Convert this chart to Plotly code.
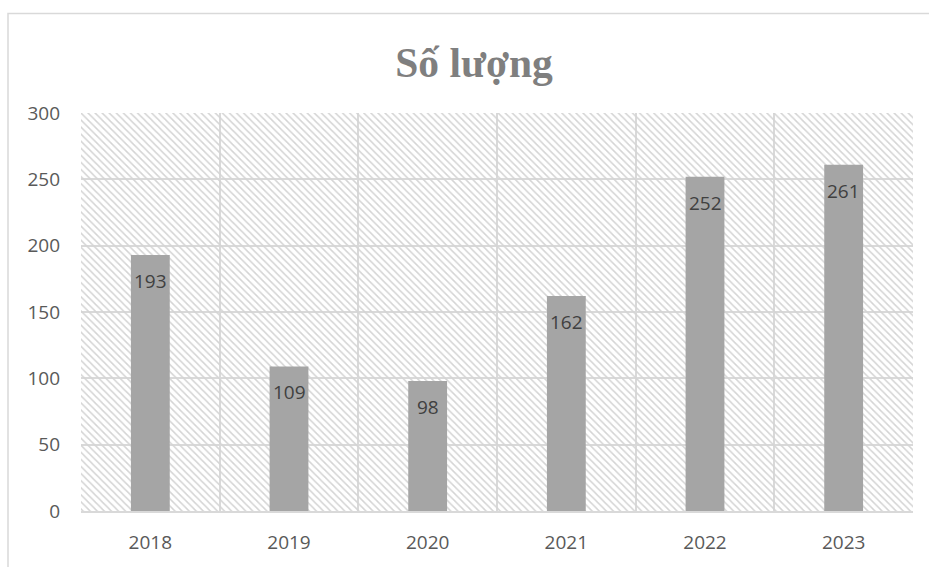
import plotly.graph_objects as go

years = ["2018", "2019", "2020", "2021", "2022", "2023"]
values = [193, 109, 98, 162, 252, 261]
y_max = 300
y_step = 50

W, H = 929, 567
L, R, T, B = 81, 16, 113, 54
pw, ph = W - L - R, H - T - B

grid_col = "#d9d9d9"
text_col = "#595959"
font_fam = "Open Sans"

fig = go.Figure()

# hatched plot background
fig.add_trace(go.Bar(
    x=years, y=[y_max] * len(years), width=1,
    marker=dict(color="rgba(255,255,255,0)", line=dict(width=0),
                pattern=dict(shape="\\", size=5, solidity=0.3, fillmode="replace",
                             bgcolor="rgba(255,255,255,0)", fgcolor="#d4d4d4",
                             fgopacity=1)),
    hoverinfo="skip", showlegend=False,
))

fig.add_trace(go.Bar(
    x=years, y=values, width=0.28,
    marker=dict(color="#a5a5a5", line=dict(width=0)),
    showlegend=False,
))

for i, v in enumerate(values):
    fig.add_annotation(x=i, y=v, yshift=-26, text=str(v), showarrow=False,
                       font=dict(family=font_fam, size=19, color="#404040"))

# chart area border (partially cropped in reference)
fig.add_shape(type="rect", xref="paper", yref="paper",
              x0=(8 - L) / pw, x1=1.3, y0=-0.5, y1=(H - B - 13) / ph,
              line=dict(color="#d9d9d9", width=1.5), layer="below")

fig.update_layout(
    width=W, height=H,
    margin=dict(l=L, r=R, t=T, b=B),
    paper_bgcolor="white", plot_bgcolor="white",
    barmode="overlay",
    title=dict(text="<b>Số lượng</b>", x=474 / W, xanchor="center",
               y=1 - 62 / H, yanchor="middle",
               font=dict(family="Liberation Serif", size=41.5, color="#7f7f7f")),
    xaxis=dict(type="category", tickson="boundaries", showgrid=True,
               gridcolor=grid_col, gridwidth=2, ticks="",
               showline=True, linecolor=grid_col, linewidth=2, mirror=False,
               range=[-0.5, len(years) - 0.5], ticklabelstandoff=13,
               tickfont=dict(family=font_fam, size=19, color=text_col)),
    yaxis=dict(range=[0, y_max], dtick=y_step, showgrid=True,
               gridcolor=grid_col, gridwidth=2, zeroline=False, ticks="",
               ticklabelstandoff=20,
               tickfont=dict(family=font_fam, size=19, color=text_col)),
)

fig.write_html("out.html")
